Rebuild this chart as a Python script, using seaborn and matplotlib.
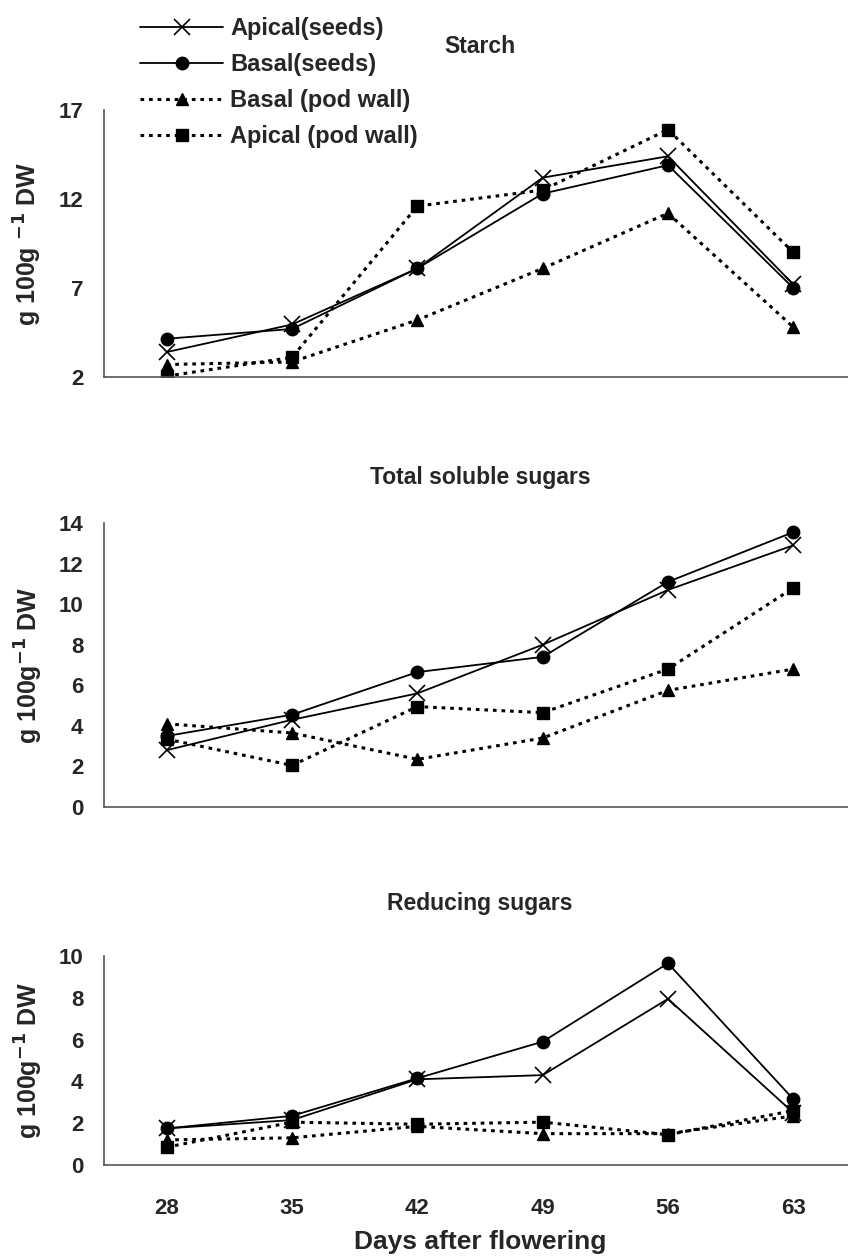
""" Starch and sugar content of seeds and pod wall after flowering """

import pandas as pd
import matplotlib
matplotlib.use("Agg")
import matplotlib.pyplot as plt
import seaborn as sns

# Days after flowering (x categories)
days = ["28", "35", "42", "49", "56", "63"]
series = ["Apical(seeds)", "Basal(seeds)", "Basal (pod wall)", "Apical (pod wall)"]

# Starch, g 100g-1 DW
starch_apical_seeds = [3.4, 4.95, 8.1, 13.2, 14.4, 7.2]
starch_basal_seeds = [4.15, 4.7, 8.1, 12.3, 13.9, 7.0]
starch_basal_pod = [2.7, 2.85, 5.2, 8.1, 11.2, 4.8]
starch_apical_pod = [2.05, 3.1, 11.6, 12.5, 15.9, 9.0]

# Total soluble sugars
tss_apical_seeds = [2.8, 4.3, 5.6, 8.0, 10.7, 12.9]
tss_basal_seeds = [3.5, 4.55, 6.65, 7.4, 11.1, 13.55]
tss_basal_pod = [4.1, 3.65, 2.35, 3.4, 5.75, 6.8]
tss_apical_pod = [3.35, 2.05, 4.95, 4.65, 6.8, 10.8]

# Reducing sugars
rs_apical_seeds = [1.75, 2.15, 4.1, 4.3, 7.95, 2.5]
rs_basal_seeds = [1.75, 2.35, 4.15, 5.9, 9.65, 3.15]
rs_basal_pod = [1.2, 1.3, 1.85, 1.5, 1.5, 2.35]
rs_apical_pod = [0.85, 2.05, 1.95, 2.05, 1.45, 2.6]

panels = [
    ("Starch", [starch_apical_seeds, starch_basal_seeds, starch_basal_pod, starch_apical_pod],
     (2, 17), [2, 7, 12, 17], "g 100g $^{-1}$ DW"),
    ("Total soluble sugars", [tss_apical_seeds, tss_basal_seeds, tss_basal_pod, tss_apical_pod],
     (0, 14), list(range(0, 15, 2)), "g 100g$^{-1}$ DW"),
    ("Reducing sugars", [rs_apical_seeds, rs_basal_seeds, rs_basal_pod, rs_apical_pod],
     (0, 10), list(range(0, 11, 2)), "g 100g$^{-1}$ DW"),
]

sns.set_style("white")
plt.rcParams["font.family"] = ["Liberation Sans", "DejaVu Sans"]
plt.rcParams["font.weight"] = "bold"
plt.rcParams["axes.labelweight"] = "bold"
plt.rcParams["mathtext.default"] = "bf"

markers = ["x", "o", "^", "s"]
linestyles = ["-", "-", ":", ":"]
dotted = (0, (1.2, 1.6))

fig = plt.figure(figsize=(8.48, 12.56), dpi=100)
# axes boxes in pixels: (left, bottom-from-top, top-from-top); right edge runs off the picture
boxes = [(104, 377, 110), (104, 807, 523), (104, 1165, 956)]
title_pads = [41, 28, 33]
W, H = 848, 1256
axes = []
for (x0, yb, yt) in boxes:
    axes.append(fig.add_axes([x0 / W, 1 - yb / H, 752 / W, (yb - yt) / H]))

for i, (ax, (title, vals, ylim, yticks, ylabel)) in enumerate(zip(axes, panels)):
    df = pd.DataFrame({
        "day": days * len(series),
        "value": sum(vals, []),
        "series": [s for s in series for _ in days],
    })
    sns.pointplot(data=df, x="day", y="value", hue="series", hue_order=series,
                  palette=["black"] * 4, markers=markers, linestyles=linestyles,
                  errorbar=None, markersize=9, linewidth=1.3, ax=ax)
    for ln in ax.lines:
        if ln.get_linestyle() == ":":
            ln.set_linestyle(dotted)
            ln.set_linewidth(2.2)
        if ln.get_marker() == "x":
            ln.set_markersize(11)
            ln.set_markeredgewidth(1.2)
    if i == 0:
        handles, labels = ax.get_legend_handles_labels()
    ax.get_legend().remove()

    ax.set_xlim(-0.5, 5.5)
    ax.set_ylim(*ylim)
    ax.set_yticks(yticks)
    ax.set_ylabel(ylabel, fontsize=18, fontweight="bold", labelpad=10)
    ax.set_xlabel("")
    ax.set_title(title, fontsize=16.5, fontweight="bold", pad=title_pads[i])
    sns.despine(ax=ax)
    for sp in ["left", "bottom"]:
        ax.spines[sp].set_color("#555555")
        ax.spines[sp].set_linewidth(1.2)
    ax.tick_params(axis="y", direction="inout", length=12, width=1, color="#333333",
                   labelsize=16, pad=9)
    if i < 2:
        ax.set_xticks([-0.5, 0.5, 1.5, 2.5, 3.5, 4.5, 5.5])
        ax.set_xticklabels([])
        ax.tick_params(axis="x", direction="inout", length=12, width=1, color="#333333")
    else:
        ax.set_xticks(range(len(days)))
        ax.set_xticklabels(days)
        ax.set_xticks([-0.5, 0.5, 1.5, 2.5, 3.5, 4.5, 5.5], minor=True)
        ax.tick_params(axis="x", which="both", direction="in", length=6, width=1,
                       color="#333333", labelsize=16, pad=24)
        ax.set_xlabel("Days after flowering", fontsize=19, fontweight="bold", labelpad=8)
    for lab in ax.get_xticklabels() + ax.get_yticklabels():
        lab.set_fontweight("bold")

for h in handles:
    if h.get_linestyle() == ":":
        h.set_linestyle(dotted)
        h.set_linewidth(2.2)

leg = fig.legend(handles, labels, loc="upper left", bbox_to_anchor=(131 / W, 1 - 8 / H),
                 frameon=False, fontsize=17, handlelength=3.5, handletextpad=0.3,
                 labelspacing=0.55, borderaxespad=0)
for t in leg.get_texts():
    t.set_fontweight("bold")

fig.savefig("out.png", dpi=100)
